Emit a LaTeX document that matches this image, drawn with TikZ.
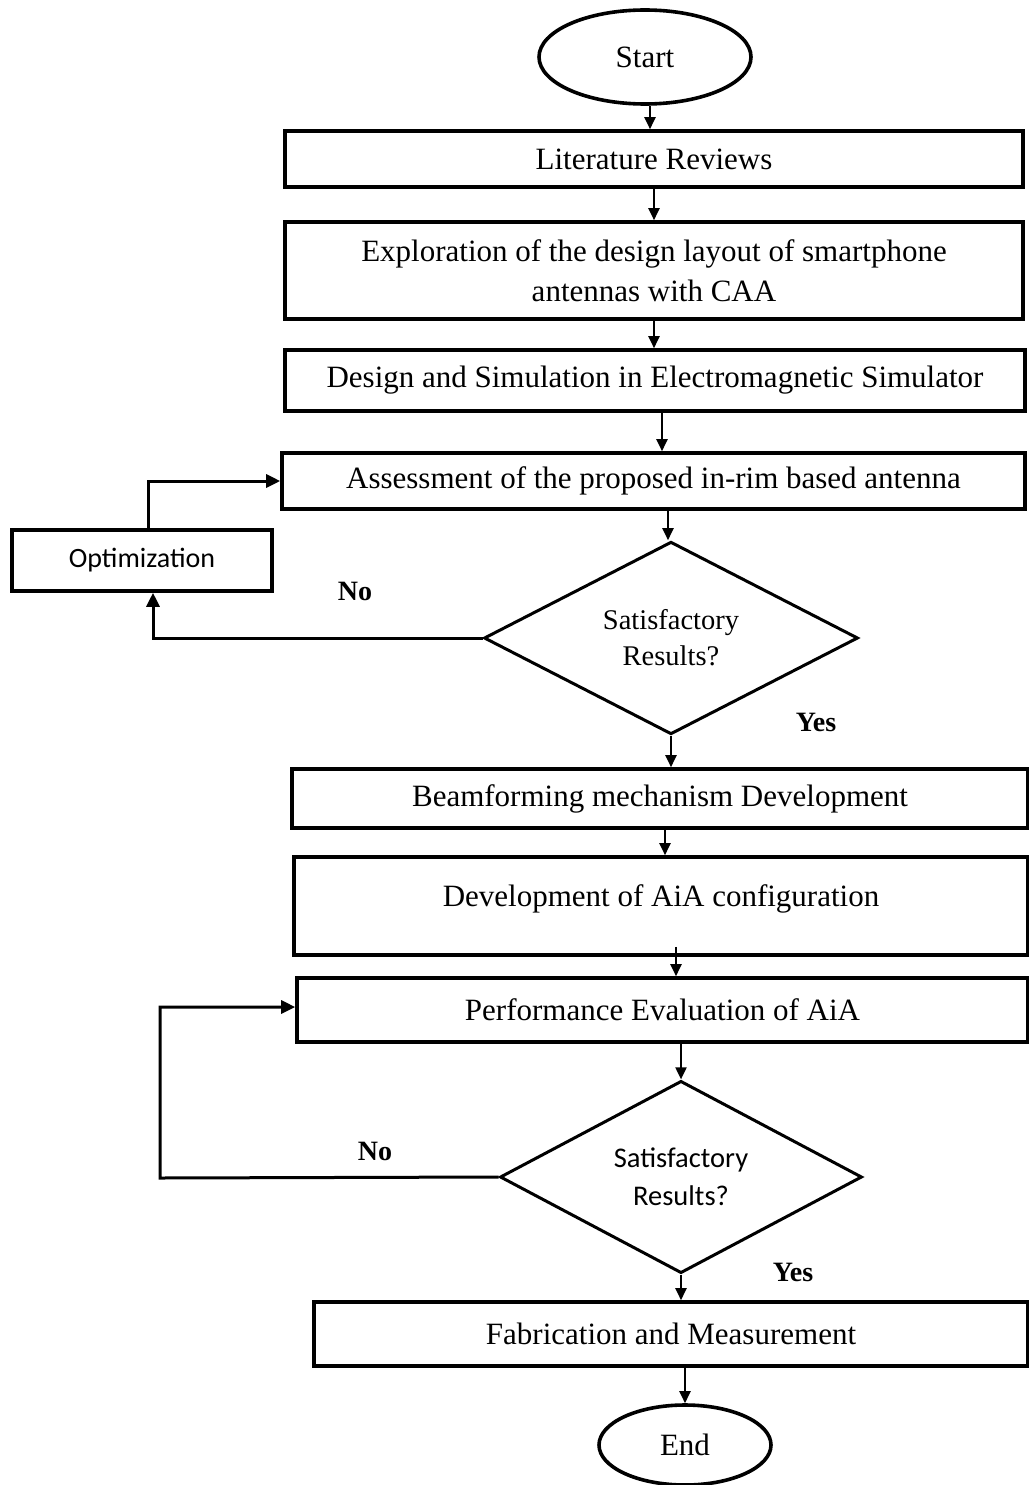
\documentclass[tikz,border=0pt]{standalone}
\usepackage{fontspec}
\setmainfont{Liberation Serif}
\newfontfamily\calib{Carlito}
\usetikzlibrary{shapes.geometric,arrows.meta}
\begin{document}
\begin{tikzpicture}[x=1pt,y=-1pt,
  box/.style={draw, line width=3.6pt, rectangle, inner sep=0pt, align=center,
    font=\fontsize{31}{40}\selectfont},
  term/.style={draw, line width=3.6pt, ellipse, inner sep=0pt,
    font=\fontsize{31}{40}\selectfont},
  dec/.style={draw, line width=3pt, diamond, inner sep=0pt, align=center},
  arr/.style={line width=2pt, -{Triangle[length=12pt,width=11pt]}},
  loop/.style={line width=3pt, -{Triangle[length=14pt,width=13pt]}},
  lbl/.style={font=\fontsize{28}{32}\selectfont\bfseries}]
\useasboundingbox (0,0) rectangle (1028,1485);
\fill[white] (0,0) rectangle (1028,1485);

\node[term, minimum width=212, minimum height=94] (start) at (645,57) {Start};
\node[box, minimum width=738, minimum height=56] (lit) at (654,159) {Literature Reviews};
\node[box, minimum width=738, minimum height=97] (expl) at (654,270.5)
  {Exploration of the design layout of smartphone\\antennas with CAA};
\node[box, minimum width=740, minimum height=61] (des) at (655,380.5)
  {Design and Simulation in Electromagnetic Simulator};
\node[box, minimum width=743, minimum height=56] (assess) at (653.5,481)
  {Assessment of the proposed in-rim based antenna};
\node[box, minimum width=260, minimum height=61, font=\calib\fontsize{28}{32}\selectfont] (opt) at (142,560.5) {Optimization};
\node[dec, minimum width=374, minimum height=186, font=\fontsize{28.5}{36}\selectfont] (d1) at (671,638)
  {Satisfactory\\Results?};
\node[box, minimum width=736, minimum height=59] (beam) at (660,798.5)
  {Beamforming mechanism Development};
\node[box, minimum width=734, minimum height=98, text depth=20pt] (aia) at (661,906)
  {Development of AiA configuration};
\node[box, minimum width=731, minimum height=64] (perf) at (662.5,1010)
  {Performance Evaluation of AiA};
\node[dec, minimum width=362, minimum height=186, font=\calib\fontsize{28.5}{38}\selectfont] (d2) at (681,1177)
  {Satisfactory\\Results?};
\node[box, minimum width=714, minimum height=64] (fab) at (671,1334)
  {Fabrication and Measurement};
\node[term, minimum width=172, minimum height=80] (end) at (685,1445) {End};

\node[lbl] (no1) at (355,591) {No};
\node[lbl] (yes1) at (816,722) {Yes};
\node[lbl] (no2) at (375,1151) {No};
\node[lbl] (yes2) at (793,1272) {Yes};

\draw[arr] ([xshift=5pt]start.south) -- ([xshift=5pt]start.south |- lit.north);
\draw[arr] (lit.south) -- (lit.south |- expl.north);
\draw[arr] (expl.south) -- (expl.south |- des.north);
\draw[arr] ([xshift=7pt]des.south) -- ([xshift=7pt]des.south |- assess.north);
\draw[arr] ([xshift=-3pt]assess.south -| d1.north) -- ([xshift=-3pt]d1.north);
\draw[arr] (d1.south) -- (d1.south |- beam.north);
\draw[arr] ([xshift=5pt]beam.south) -- ([xshift=5pt]beam.south |- aia.north);
\draw[arr] ([xshift=15pt,yshift=10pt]aia.south) -- ([xshift=15pt]aia.south |- perf.north);
\draw[arr] (perf.south -| d2.north) -- (d2.north);
\draw[arr] (d2.south) -- (d2.south |- fab.north);
\draw[arr] (fab.south -| end.north) -- (end.north);

\draw[loop] (d1.west) -| ([xshift=11pt]opt.south);
\draw[loop] ([xshift=6pt]opt.north) |- (assess.west);
\coordinate (c2) at (160,1178);
\draw[loop] (d2.west) -- (c2) |- ([yshift=3pt]perf.west);
\end{tikzpicture}
\end{document}
